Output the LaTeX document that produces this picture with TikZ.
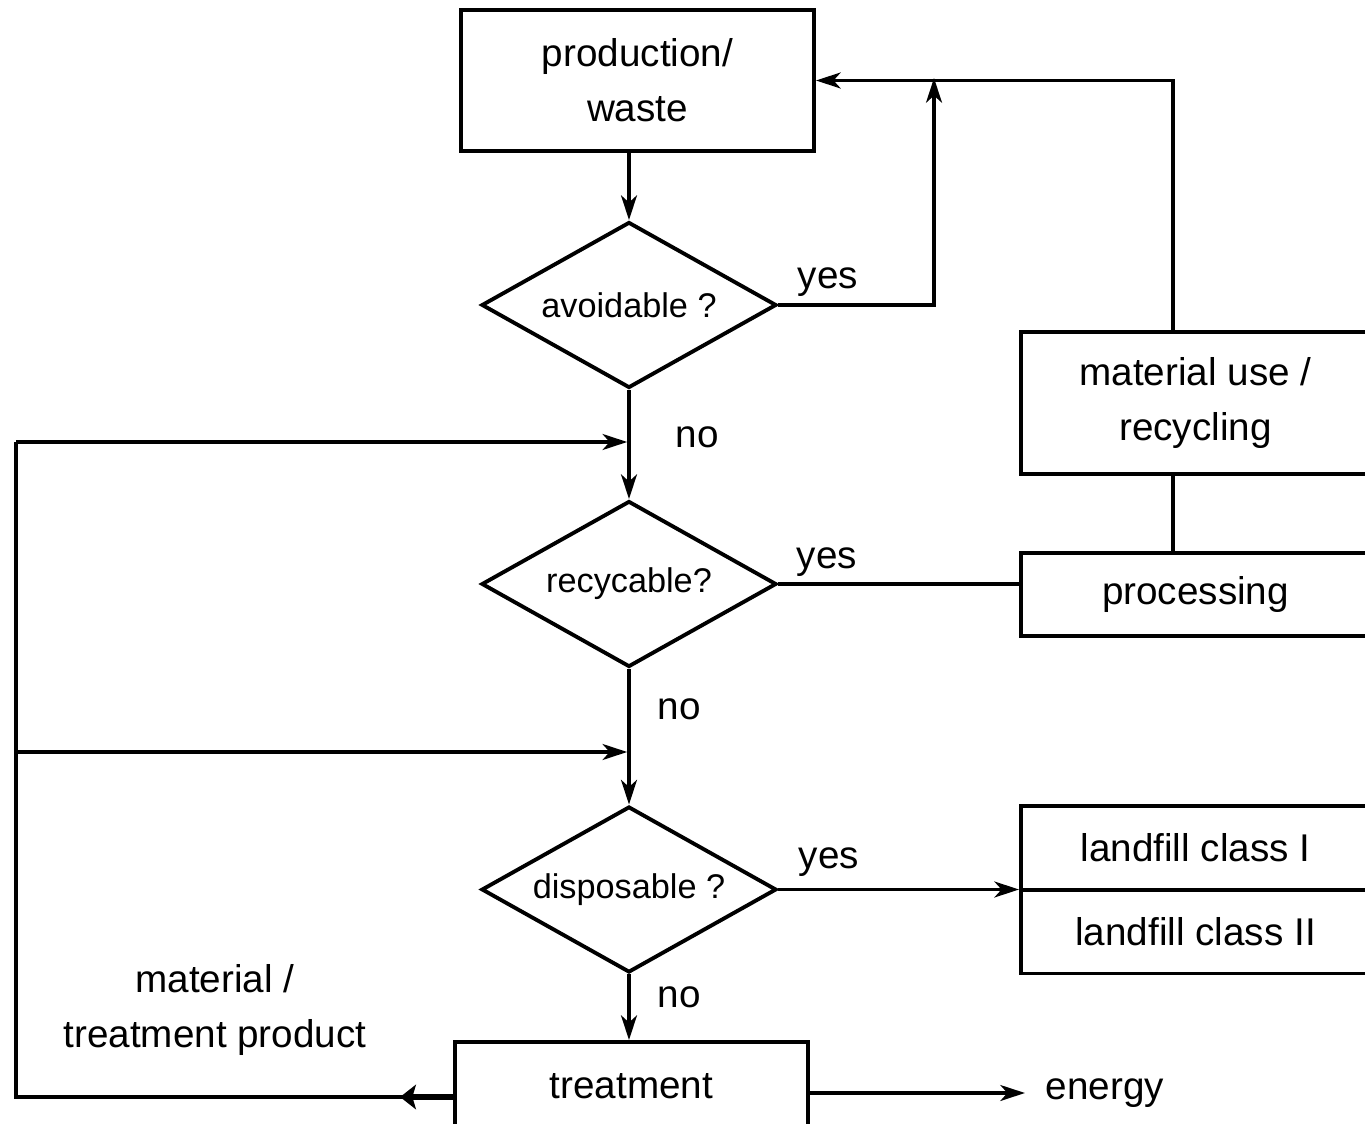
\documentclass[tikz,border=0pt]{standalone}
\usepackage{fontspec}
\setmainfont{Liberation Sans}
\usetikzlibrary{arrows,arrows.meta,shapes,positioning}

\begin{document}
\begin{tikzpicture}[x=0.02cm,y=-0.02cm,line width=2.2pt,
  box/.style={draw,rectangle,inner sep=0pt,align=center,font=\fontsize{22}{31.5}\selectfont},
  decide/.style={draw,diamond,inner sep=0pt,aspect=1.77,minimum width=5.9cm,minimum height=3.32cm,font=\fontsize{19.5}{24}\selectfont},
  lbl/.style={font=\fontsize{22}{31.5}\selectfont,align=center},
  flow/.style={-{Stealth[length=14pt,width=9pt,inset=4pt]}}]

  \useasboundingbox (0,0) rectangle (1365,1124);

  % main line
  \node[box,minimum width=7.06cm,minimum height=2.82cm] (prod) at (637.5,80.5) {production/\\waste};
  \node[decide] (avoid) at (629,305) {avoidable ?};
  \node[decide] (recyc) at (629,584) {recycable?};
  \node[decide] (disp) at (629,889.5) {disposable ?};
  \node[box,minimum width=7.06cm,minimum height=1.76cm] (treat) at (631.5,1086) {treatment};

  % right side
  \node[box,minimum width=6.98cm,minimum height=2.84cm] (matuse) at (1195.5,403) {material use /\\recycling};
  \node[box,minimum width=6.98cm,minimum height=1.66cm] (proc) at (1195.5,594.5) {processing};
  \node[box,minimum width=6.98cm,minimum height=1.68cm] (land1) at (1195.5,848) {landfill class I};
  \node[box,minimum width=6.98cm,minimum height=1.68cm] (land2) at (1195.5,931.5) {landfill class II};
  \node[lbl,anchor=west,inner ysep=0pt,inner xsep=0.38cm] (energy) at (1025,1093) {energy};

  % labels
  \node[lbl] (yes1) at (828,282) {yes};
  \node[lbl] (yes2) at (827,562) {yes};
  \node[lbl] (yes3) at (829,862) {yes};
  \node[lbl] (no1) at (697,437) {no};
  \node[lbl] (no2) at (679,709) {no};
  \node[lbl] (no3) at (679,997) {no};
  \node[lbl] (prodlbl) at (215,1010) {material /\\treatment product};

  \coordinate (joint) at (934,78);
  \coordinate (riser) at (1173,0);
  \coordinate (lowleft) at (16,1097);
  \coordinate (midleft) at (16,752);
  \coordinate (upleft) at (16,442);

  % spine
  \draw[flow] (avoid.north |- prod.south) -- (avoid.north);
  \draw[flow] (avoid.south) -- (recyc.north);
  \draw[flow] (recyc.south) -- (disp.north);
  \draw[flow] (disp.south) -- (disp.south |- treat.north);

  % yes branches
  \draw[flow] (avoid.east) -| (joint);
  \draw[flow] (riser |- matuse.north) |- (prod.east);
  \draw (riser |- proc.north) -- (riser |- matuse.south);
  \draw (recyc.east) -- (recyc.east -| proc.west);
  \draw[flow] (disp.east) -- (disp.east -| land1.west);

  % outputs of treatment
  \draw[flow] (treat.east |- energy) -- (energy.west);
  \draw[-{Stealth[length=9pt,width=14pt,inset=2pt]},line width=3pt] (treat.west |- lowleft) -- ++(-53,0);
  \draw (treat.west |- lowleft) -- (lowleft) -- (upleft);
  \draw[flow,shorten >=1pt] (upleft) -- (upleft -| avoid);
  \draw[flow,shorten >=1pt] (midleft) -- (midleft -| avoid);

\end{tikzpicture}
\end{document}
